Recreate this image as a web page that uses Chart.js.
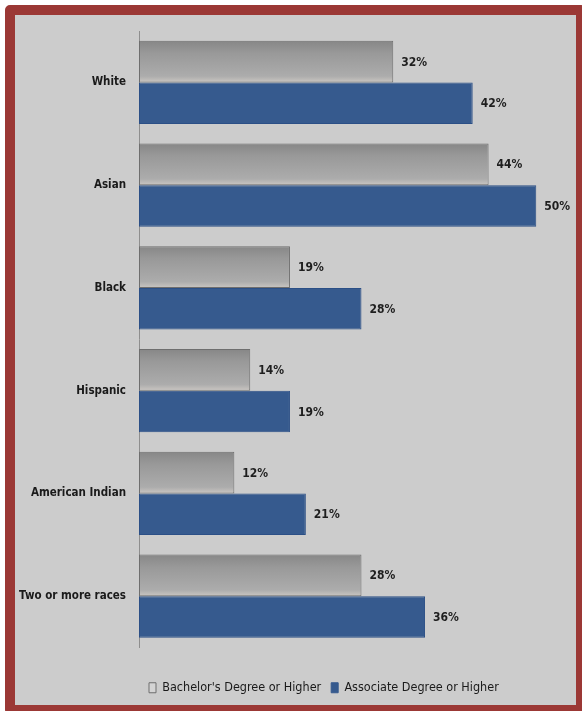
<!DOCTYPE html>
<html>
<head>
<meta charset="utf-8">
<script src="https://cdn.jsdelivr.net/npm/chart.js@4/dist/chart.umd.min.js"></script>
<style>
  html, body { margin: 0; padding: 0; background: #ffffff; overflow: hidden; }
  #frame {
    position: absolute; left: 5px; top: 5px;
    width: 561px; height: 690px;
    border: 10px solid #9b3835; border-radius: 5px;
    background: #cccccc; overflow: hidden;
  }
  #chart { position: absolute; left: 0; top: 0; }
</style>
</head>
<body>
<div id="frame"><canvas id="chart" width="561" height="689"></canvas></div>
<script>
// data
const categories = ['White', 'Asian', 'Black', 'Hispanic', 'American Indian', 'Two or more races'];
const bachelors = [32, 44, 19, 14, 12, 28];
const associate = [42, 50, 28, 19, 21, 36];
const seriesNames = ["Bachelor's Degree or Higher", 'Associate Degree or Higher'];

const fontFamily = '"DejaVu Sans Condensed", "Liberation Sans Narrow", Arial, sans-serif';
const blue = '#365a8e';

// gray bars get a vertical gradient, worked out from the y scale
function grayFill(context) {
    const chart = context.chart;
    const y = chart.scales.y;
    if (!y || context.dataIndex === undefined) return '#a0a0a0';
    const center = y.getPixelForValue(context.dataIndex);
    const band = (y.bottom - y.top) / categories.length;
    const h = band * 0.81 / 2;
    const g = chart.ctx.createLinearGradient(0, center - h, 0, center);
    g.addColorStop(0, '#878787');
    g.addColorStop(0.3, '#999999');
    g.addColorStop(0.85, '#acacac');
    g.addColorStop(1, '#cac6c2');
    return g;
}

const valueLabels = {
    id: 'valueLabels',
    afterDatasetsDraw(chart) {
        const ctx = chart.ctx;
        ctx.save();
        ctx.font = 'bold 12px ' + fontFamily;
        ctx.fillStyle = '#1e1e1e';
        ctx.textAlign = 'left';
        ctx.textBaseline = 'middle';
        chart.data.datasets.forEach((ds, di) => {
            chart.getDatasetMeta(di).data.forEach((bar, i) => {
                ctx.fillText(ds.data[i] + '%', bar.x + 8, bar.y + 1);
            });
        });
        ctx.restore();
    }
};

new Chart(document.getElementById('chart'), {
    type: 'bar',
    data: {
        labels: categories,
        datasets: [{
            label: seriesNames[0],
            data: bachelors,
            backgroundColor: grayFill,
            borderColor: '#6e6e6e',
            borderWidth: 1,
            borderSkipped: false
        }, {
            label: seriesNames[1],
            data: associate,
            backgroundColor: blue,
            borderColor: '#2b4f86',
            borderWidth: 1,
            borderSkipped: false
        }]
    },
    options: {
        indexAxis: 'y',
        responsive: false,
        animation: false,
        layout: { padding: { top: 16, left: 0, right: 0, bottom: 0 } },
        datasets: { bar: { categoryPercentage: 0.81, barPercentage: 1.0 } },
        scales: {
            x: {
                min: 0,
                max: 55,
                grid: { display: false, drawTicks: false },
                border: { display: false },
                ticks: { display: false },
                afterFit: scale => { scale.height = 24; }
            },
            y: {
                grid: { display: false, drawTicks: false },
                border: { display: true, color: '#8e8e8e', width: 1 },
                ticks: {
                    color: '#1a1a1a',
                    padding: 13,
                    font: { family: fontFamily, size: 11.5, weight: 'bold' }
                },
                afterFit: scale => {
                    scale.width = 124;
                    scale.paddingTop = 0;
                    scale.paddingBottom = 0;
                }
            }
        },
        plugins: {
            tooltip: { enabled: false },
            legend: {
                position: 'bottom',
                align: 'start',
                fullSize: false,
                labels: {
                    color: '#1a1a1a',
                    boxWidth: 7,
                    boxHeight: 10,
                    padding: 10,
                    font: { family: fontFamily, size: 12.5 },
                    generateLabels: chart => seriesNames.map((name, i) => ({
                        text: name,
                        fillStyle: i === 0 ? '#d4d4d4' : blue,
                        strokeStyle: i === 0 ? '#6e6e6e' : blue,
                        lineWidth: 1,
                        datasetIndex: i,
                        fontColor: '#1a1a1a'
                    }))
                }
            }
        }
    },
    plugins: [valueLabels]
});
</script>
</body>
</html>
